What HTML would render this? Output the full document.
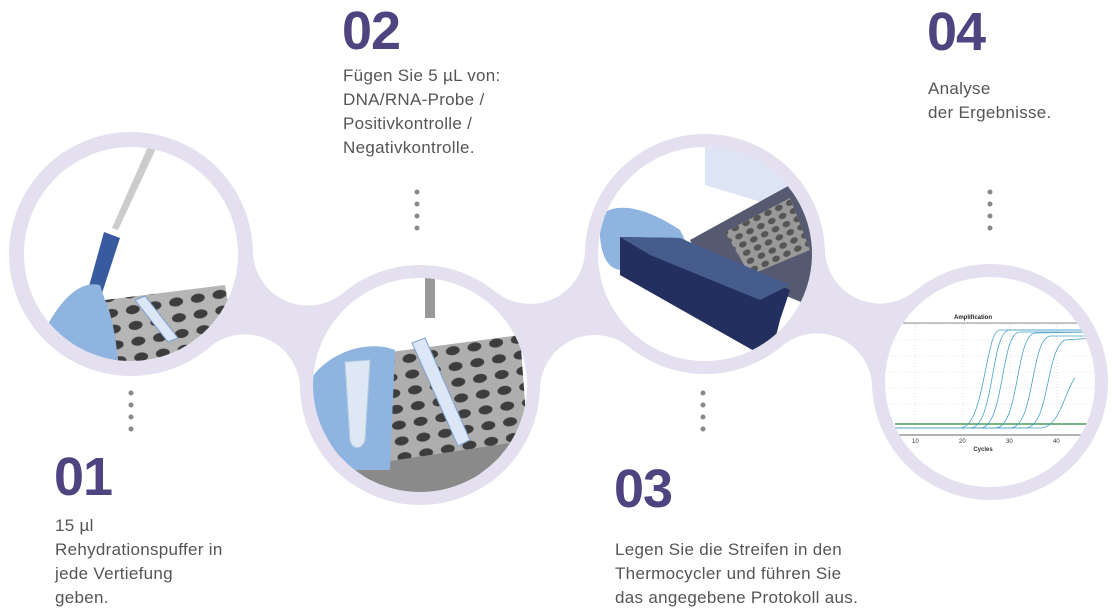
<!DOCTYPE html>
<html><head><meta charset="utf-8"><style>
body{margin:0;width:1120px;height:615px;background:#fff;position:relative;overflow:hidden;font-family:"Liberation Sans",sans-serif}
.n{position:absolute;font-weight:bold;font-size:54px;color:#4f4380;letter-spacing:-1px;line-height:1}
.t{position:absolute;font-size:17px;color:#555;line-height:24px;letter-spacing:0.3px}
svg{position:absolute;left:0;top:0}
</style></head><body>
<svg width="1120" height="615" viewBox="0 0 1120 615" id="s">
<defs>
<clipPath id="c1"><circle cx="131" cy="254" r="107"/></clipPath>
<clipPath id="c2"><circle cx="420" cy="385" r="107"/></clipPath>
<clipPath id="c3"><circle cx="705" cy="254" r="107"/></clipPath>
<clipPath id="c4"><circle cx="990" cy="382" r="105"/></clipPath>
<pattern id="holes" width="22" height="16" patternUnits="userSpaceOnUse" patternTransform="rotate(-10)"><ellipse cx="11" cy="8" rx="7" ry="4.5" fill="#3d3d3d"/></pattern>
<pattern id="holes2" width="12" height="9" patternUnits="userSpaceOnUse" patternTransform="rotate(-25)"><ellipse cx="6" cy="4.5" rx="4" ry="3" fill="#555"/></pattern>
</defs>
<g id="band"></g>
<g fill="#e5e0f0">
<circle cx="131" cy="254" r="122"/>
<circle cx="420" cy="385" r="120"/>
<circle cx="705" cy="254" r="120"/>
<circle cx="990" cy="382" r="118"/>
</g>
<g fill="#fff">
<circle cx="131" cy="254" r="107"/><circle cx="420" cy="385" r="107"/><circle cx="705" cy="254" r="107"/><circle cx="990" cy="382" r="105"/>
</g>
<g clip-path="url(#c1)">
<polygon points="105,300 225,285 240,370 105,370" fill="#b5b5b5"/>
<polygon points="105,300 225,285 240,370 105,370" fill="url(#holes)"/>
<polygon points="135,300 145,296 178,338 168,342" fill="#dbe6f6" stroke="#7fa0d0"/>
<polygon points="140,128 168,118 172,135 150,145" fill="#aaa"/>
<polygon points="150,142 160,140 118,230 112,228" fill="#ccc"/>
<polygon points="104,232 120,238 90,330 78,326" fill="#3a5aa0"/>
<path d="M45 330 C60 300 80 280 100 285 L105 300 C110 310 115 330 118 360 L60 360 Z" fill="#8fb4e0"/>
</g>
<g clip-path="url(#c2)">
<polygon points="330,360 520,335 530,470 330,500" fill="#aeaeae"/>
<polygon points="330,360 520,335 530,470 330,500" fill="url(#holes)"/>
<polygon points="330,470 530,440 530,500 330,500" fill="#8a8a8a"/>
<polygon points="412,343 425,338 470,440 458,446" fill="#dbe6f6" stroke="#7fa0d0"/>
<rect x="425" y="268" width="10" height="50" fill="#999"/>
<path d="M310 380 C330 350 370 340 395 350 L390 470 L310 470 Z" fill="#8fb4e0"/>
<path d="M345 362 L370 360 L365 440 C362 450 352 450 350 440 Z" fill="#dde8f4" stroke="#b8cce0"/>
</g>
<g clip-path="url(#c3)">
<polygon points="705,140 790,140 820,220 705,185" fill="#dde5f5"/>
<polygon points="690,240 790,185 820,190 820,310 700,260" fill="#555a70"/>
<polygon points="725,232 790,198 810,250 750,275" fill="#999"/>
<polygon points="725,232 790,198 810,250 750,275" fill="url(#holes2)"/>
<path d="M600 215 C620 200 650 210 680 230 L690 250 L620 270 C605 268 598 250 600 215Z" fill="#8fb4e0"/>
<polygon points="620,237 680,238 790,290 780,320 770,360 620,275" fill="#232f5e"/>
<polygon points="620,237 680,238 790,285 760,300 650,255" fill="#465c8c"/>
</g>
<g clip-path="url(#c4)">
<text x="973" y="319" font-size="6" font-weight="bold" fill="#222" text-anchor="middle">Amplification</text>
<g stroke="#ccc" stroke-dasharray="1 2" stroke-width="0.6">
<line x1="880" y1="324" x2="1095" y2="324"/><line x1="880" y1="340" x2="1095" y2="340"/><line x1="880" y1="356" x2="1095" y2="356"/><line x1="880" y1="372" x2="1095" y2="372"/><line x1="880" y1="388" x2="1095" y2="388"/><line x1="880" y1="404" x2="1095" y2="404"/>
<line x1="915" y1="324" x2="915" y2="432"/><line x1="963" y1="324" x2="963" y2="432"/><line x1="1010" y1="324" x2="1010" y2="432"/><line x1="1057" y1="324" x2="1057" y2="432"/>
</g>
<line x1="880" y1="323" x2="1095" y2="323" stroke="#666" stroke-width="0.8"/>
<line x1="880" y1="435" x2="1095" y2="435" stroke="#333" stroke-width="0.8"/>
<line x1="895" y1="424" x2="1095" y2="424" stroke="#4a9a5a" stroke-width="1.5"/>
<g fill="none" stroke="#4aa0c8" stroke-width="0.8">
<path d="M895 428 L960 428 C985 428 985 330 1000 330 L1095 330"/>
<path d="M895 428 L970 428 C995 428 990 330 1010 330 L1095 330"/>
<path d="M895 428 L980 428 C1005 428 1000 332 1020 332 L1095 332"/>
<path d="M895 428 L995 428 C1020 428 1015 335 1035 333 L1095 332"/>
<path d="M895 428 L1010 428 C1035 428 1030 340 1050 336 L1095 336"/>
<path d="M895 428 L1025 428 C1050 428 1045 350 1065 340 L1095 338"/>
<path d="M895 428 L1040 428 C1060 428 1065 390 1075 378"/>
</g>
<g font-size="6" fill="#333"><text x="912" y="443">10</text><text x="959" y="443">20</text><text x="1006" y="443">30</text><text x="1053" y="443">40</text>
<text x="983" y="451" text-anchor="middle" font-weight="bold">Cycles</text></g>
</g>
<g fill="#888">
<circle cx="131" cy="393" r="2.5"/><circle cx="131" cy="405" r="2.5"/><circle cx="131" cy="417" r="2.5"/><circle cx="131" cy="429" r="2.5"/>
<circle cx="417" cy="192" r="2.5"/><circle cx="417" cy="204" r="2.5"/><circle cx="417" cy="216" r="2.5"/><circle cx="417" cy="228" r="2.5"/>
<circle cx="703" cy="393" r="2.5"/><circle cx="703" cy="405" r="2.5"/><circle cx="703" cy="417" r="2.5"/><circle cx="703" cy="429" r="2.5"/>
<circle cx="990" cy="192" r="2.5"/><circle cx="990" cy="204" r="2.5"/><circle cx="990" cy="216" r="2.5"/><circle cx="990" cy="228" r="2.5"/>
</g>
</svg>
<script>
(function(){
var C=[[131,254,122],[420,385,120],[705,254,120],[990,382,118]];
var R=55,ns="http://www.w3.org/2000/svg",g=document.getElementById("band"),h="";
for(var i=0;i<3;i++){
 var a=C[i],b=C[i+1];
 var ra=a[2]+R,rb=b[2]+R,dx=b[0]-a[0],dy=b[1]-a[1],d=Math.sqrt(dx*dx+dy*dy);
 var x=(ra*ra-rb*rb+d*d)/(2*d),y=Math.sqrt(ra*ra-x*x);
 var ux=dx/d,uy=dy/d;
 var px=a[0]+ux*x,py=a[1]+uy*x;
 var f1=[px-uy*y,py+ux*y],f2=[px+uy*y,py-ux*y];
 h+='<polygon fill="#e5e0f0" points="'+a[0]+','+a[1]+' '+f1[0]+','+f1[1]+' '+b[0]+','+b[1]+' '+f2[0]+','+f2[1]+'"/>';
 h+='<circle fill="#fff" cx="'+f1[0]+'" cy="'+f1[1]+'" r="'+R+'"/><circle fill="#fff" cx="'+f2[0]+'" cy="'+f2[1]+'" r="'+R+'"/>';
}
g.innerHTML=h;
})();
</script>
<div class="n" style="left:342px;top:4px">02</div>
<div class="t" style="left:343px;top:64px">Fügen Sie 5 µL von:<br>DNA/RNA-Probe /<br>Positivkontrolle /<br>Negativkontrolle.</div>
<div class="n" style="left:927px;top:5px">04</div>
<div class="t" style="left:928px;top:77px">Analyse<br>der Ergebnisse.</div>
<div class="n" style="left:54px;top:450px">01</div>
<div class="t" style="left:55px;top:514px">15 µl<br>Rehydrationspuffer in<br>jede Vertiefung<br>geben.</div>
<div class="n" style="left:614px;top:462px">03</div>
<div class="t" style="left:615px;top:538px">Legen Sie die Streifen in den<br>Thermocycler und führen Sie<br>das angegebene Protokoll aus.</div>
</body></html>
